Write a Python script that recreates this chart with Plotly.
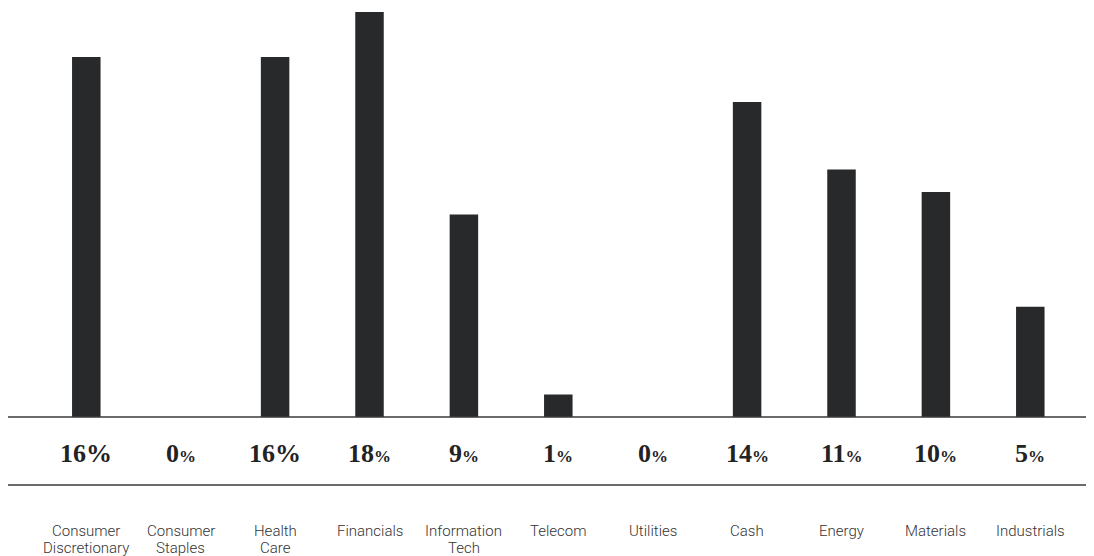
import plotly.graph_objects as go

categories = ["Consumer Discretionary", "Consumer Staples", "Health Care", "Financials",
              "Information Tech", "Telecom", "Utilities", "Cash", "Energy", "Materials", "Industrials"]
label_lines = [["Consumer", "Discretionary"], ["Consumer", "Staples"], ["Health", "Care"],
               ["Financials"], ["Information", "Tech"], ["Telecom"], ["Utilities"],
               ["Cash"], ["Energy"], ["Materials"], ["Industrials"]]
values = [16, 0, 16, 18, 9, 1, 0, 14, 11, 10, 4.9]
pct_labels = ["16%", "0%", "16%", "18%", "9%", "1%", "0%", "14%", "11%", "10%", "5%"]
small_pct = [False, True, False, True, True, True, True, True, True, True, True]

# page body has an 8px margin; work in reference-pixel coordinates and shift
OFF = 8
W, H = 1094, 556 - OFF
PX_PER_UNIT = 22.5
BASE_Y = 417.0 - OFF
CAT_STEP = 94.4
FIRST_X = 86.3 - OFF

def yv(py_ref):
    return (BASE_Y - (py_ref - OFF)) / PX_PER_UNIT

x0 = -FIRST_X / CAT_STEP
x1 = x0 + W / CAT_STEP

fig = go.Figure()
fig.add_trace(go.Bar(
    x=categories, y=values, width=28.5 / CAT_STEP,
    marker=dict(color="#28292b", line=dict(width=0)),
    hoverinfo="skip",
))

annotations = []
pct_font = dict(family="Liberation Serif, DejaVu Serif, serif", size=26, color="#232323")
for cat, lab, sm in zip(categories, pct_labels, small_pct):
    num = lab[:-1]
    if sm:
        txt = f"<b>{num}<span style='font-size:17px'>%</span></b>"
    else:
        txt = f"<b>{num}%</b>"
    annotations.append(dict(x=cat, y=yv(453), xref="x", yref="y", text=txt,
                            showarrow=False, font=pct_font, xanchor="center", yanchor="middle"))

cat_font = dict(family="Roboto, sans-serif", size=15, color="#333333", weight=300)
line_py = [531, 548]
for cat, lines in zip(categories, label_lines):
    for i, ln in enumerate(lines):
        annotations.append(dict(x=cat, y=yv(line_py[i]), xref="x", yref="y", text=ln,
                                showarrow=False, font=cat_font, xanchor="center", yanchor="middle"))

shapes = [
    dict(type="line", xref="paper", yref="y", x0=0, x1=1, y0=0, y1=0,
         line=dict(color="#3a3a3a", width=1.6), layer="above"),
    dict(type="line", xref="paper", yref="y", x0=0, x1=1, y0=yv(485), y1=yv(485),
         line=dict(color="#3a3a3a", width=1.4)),
]

fig.update_layout(
    width=W, height=H,
    margin=dict(l=0, r=0, t=0, b=0),
    paper_bgcolor="white", plot_bgcolor="white",
    showlegend=False,
    xaxis=dict(range=[x0, x1], showgrid=False, zeroline=False, showticklabels=False,
               showline=False, ticks="", fixedrange=True),
    yaxis=dict(range=[yv(556), yv(OFF)], showgrid=False, zeroline=False, showticklabels=False,
               showline=False, ticks="", fixedrange=True),
    annotations=annotations,
    shapes=shapes,
)

fig.write_html("out.html")
